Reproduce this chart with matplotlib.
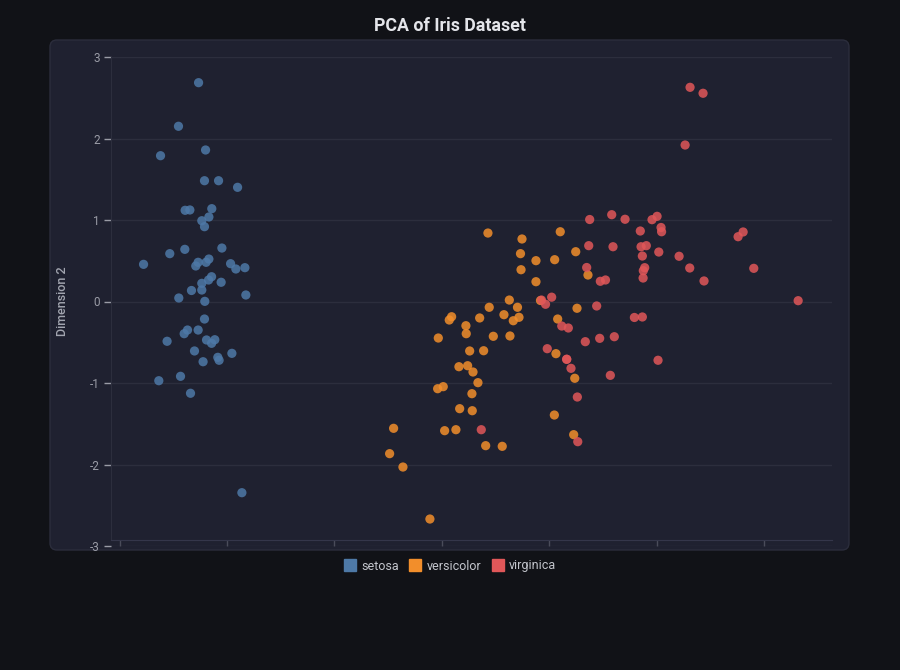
"""
PCA of Iris Dataset - scatter of first two principal components
"""

import numpy as np
import matplotlib.pyplot as plt
from matplotlib.patches import FancyBboxPatch
from matplotlib.lines import Line2D

plt.rcParams['font.family'] = ['Roboto', 'DejaVu Sans']
plt.rcParams['axes.unicode_minus'] = False

# Data
species = ['setosa', 'versicolor', 'virginica']
colors = ['#4e79a7', '#f28e2b', '#e15759']

setosa_x = [-2.265, -2.452, -2.619, -2.200, -2.210, -2.079, -1.902, -2.390, -2.346, -2.142,
            -2.169, -2.235, -2.210, -2.533, -2.393, -2.048, -2.777, -2.269, -2.291, -2.195,
            -2.169, -1.967, -1.918, -1.834, -2.144, -2.172, -2.235, -2.055, -2.331, -2.235,
            -2.449, -1.825, -2.207, -2.210, -2.368, -2.399, -2.269, -2.558, -2.191, -2.114,
            -2.144, -2.303, -2.086, -2.074, -1.955, -2.223, -2.433, -2.635, -2.340, -1.862]
setosa_y = [2.685, 2.150, 1.789, 1.859, 1.482, 1.482, 1.401, 1.119, 1.123, 1.139,
            1.037, 0.991, 0.918, 0.587, 0.640, 0.656, 0.456, 0.481, 0.436, 0.481,
            0.521, 0.464, 0.399, 0.415, 0.304, 0.264, 0.223, 0.236, 0.135, 0.141,
            0.043, 0.080, 0.002, -0.215, -0.350, -0.395, -0.350, -0.488, -0.472, -0.469,
            -0.513, -0.607, -0.685, -0.721, -0.636, -0.739, -0.918, -0.972, -1.126, -2.346]

versicolor_x = [0.428, 0.745, 0.731, 0.736, 0.627, 0.440, 0.703, 0.090, 0.068, 0.351,
                0.577, 0.664, 0.717, 0.223, 0.226, -0.034, 0.478, 0.633, 0.258, 0.388,
                0.158, 0.239, 0.289, 0.335, -0.040, 0.012, 0.279, 0.165, 0.282, -0.450,
                0.025, 0.130, 0.407, 0.561, -0.487, -0.363, -0.112, 1.101, 1.245, 0.875,
                1.049, 1.359, 0.875, 1.257, 1.077, 1.061, 1.236, 1.046, 1.226, 0.917]
versicolor_y = [0.840, 0.767, 0.587, 0.390, 0.018, -0.071, -0.071, -0.187, -0.227, -0.202,
                -0.162, -0.236, -0.194, -0.297, -0.395, -0.448, -0.427, -0.423, -0.607, -0.604,
                -0.800, -0.788, -0.865, -0.996, -1.070, -1.045, -1.131, -1.315, -1.340, -1.556,
                -1.585, -1.573, -1.769, -1.777, -1.867, -2.031, -2.669, 0.856, 0.611, 0.501,
                0.513, 0.325, 0.243, -0.083, -0.215, -0.640, -0.942, -1.393, -1.634, 0.012]

virginica_x = [0.366, 1.375, 1.366, 1.592, 1.347, 1.474, 1.522, 0.926, 0.964, 1.021,
               1.440, 1.115, 1.176, 1.334, 1.468, 1.604, 0.980, 1.161, 1.161, 1.201,
               1.567, 1.260, 1.264, 2.309, 2.430, 2.263, 1.580, 1.704, 1.955, 2.002,
               1.846, 2.039, 2.044, 2.756, 2.803, 1.853, 1.902, 1.865, 2.018, 2.207,
               1.887, 1.874, 2.306, 2.902, 1.872, 2.439, 3.315, 1.791, 1.865, 2.011]
virginica_y = [-1.573, 1.006, 0.685, 0.672, 0.417, 0.248, 0.264, 0.018, -0.034, 0.053,
               -0.055, -0.301, -0.325, -0.493, -0.452, -0.432, -0.579, -0.709, -0.709, -0.820,
               -0.906, -1.172, -1.720, 2.628, 2.555, 1.920, 1.065, 1.009, 1.004, 1.045,
               0.865, 0.908, 0.856, 0.795, 0.853, 0.672, 0.685, 0.558, 0.607, 0.555,
               0.415, 0.378, 0.411, 0.407, 0.288, 0.252, 0.010, -0.196, -0.190, -0.721]

y_ticks = [-3, -2, -1, 0, 1, 2, 3]
x_ticks = [-3, -2, -1, 0, 1, 2, 3]

# Styling
BG = '#111217'
PANEL = '#1f2130'
PANEL_EDGE = '#2b2d3c'
GRID = '#2c2e3d'
TICK = '#9a9ca6'

fig = plt.figure(figsize=(9, 6.7), dpi=100, facecolor=BG)

# rounded panel behind the plot (pixel coordinates)
panel = FancyBboxPatch((50, 670 - 550), 799, 510, boxstyle='round,pad=0,rounding_size=7',
                       transform=None, facecolor=PANEL, edgecolor=PANEL_EDGE, linewidth=1,
                       zorder=-5)
fig.patches.append(panel)

ax = fig.add_axes([111 / 900, 1 - 546 / 670, (832 - 111) / 900, (546 - 57) / 670])
ax.set_facecolor('none')
ax.set_zorder(2)

all_x = [setosa_x, versicolor_x, virginica_x]
all_y = [setosa_y, versicolor_y, virginica_y]
for xs, ys, c, name in zip(all_x, all_y, colors, species):
    ax.scatter(xs, ys, s=44, color=c, alpha=0.85, edgecolors='none', zorder=3, label=name)

ax.set_xlim(-3.08, 3.63)
ax.set_ylim(-3, 3)

ax.set_yticks(y_ticks)
ax.set_yticklabels([str(t) for t in y_ticks])
ax.set_xticks(x_ticks)
ax.set_xticklabels([])
for t in y_ticks:
    ax.axhline(t, color=GRID, linewidth=1, zorder=1)

ax.tick_params(axis='y', colors=TICK, labelsize=8.5, length=5, width=1, pad=3)
ax.tick_params(axis='x', colors='#4a4c5a', length=4, width=1)
for lab in ax.get_yticklabels():
    lab.set_color(TICK)

for side in ['top', 'right']:
    ax.spines[side].set_visible(False)
ax.spines['left'].set_color(GRID)
ax.spines['bottom'].set_color('#34364a')
ax.spines['bottom'].set_position(('data', -2.926))
ax.spines['left'].set_bounds(-2.926, 3)

ax.set_ylabel('Dimension 2', color='#a3a6b0', fontsize=9, fontweight='medium', labelpad=15)

fig.text(0.5, 1 - 26 / 670, 'PCA of Iris Dataset', ha='center', va='center',
         color='#e4e5ea', fontsize=12.8, fontweight='bold')

handles = [Line2D([0], [0], marker='s', linestyle='none', markersize=8.5,
                  markerfacecolor=c, markeredgecolor=c) for c in colors]
fig.legend(handles, species, loc='center', bbox_to_anchor=(0.5, 1 - 566 / 670),
           ncol=3, frameon=False, fontsize=9, labelcolor='#c3c5cc',
           handletextpad=0.4, columnspacing=0.8, handlelength=1.0)

plt.savefig('out.png', dpi=100, facecolor=BG)
